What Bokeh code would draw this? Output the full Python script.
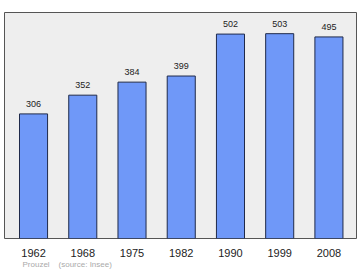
from bokeh.plotting import figure
from bokeh.models import ColumnDataSource, FixedTicker, Range1d, Title
from bokeh.core.properties import value
from bokeh.embed import file_html
from bokeh.resources import INLINE

years = ["1962", "1968", "1975", "1982", "1990", "1999", "2008"]
population = [306, 352, 384, 399, 502, 503, 495]
source_note = "Prouzel\u00a0\u00a0\u00a0\u00a0(source: Insee)"

xs = list(range(len(years)))
src = ColumnDataSource(dict(x=xs, top=population, label=[str(v) for v in population]))

p = figure(width=360, height=270, output_backend="svg", toolbar_location=None,
           x_range=Range1d(-0.59, 6.56), y_range=Range1d(0, 555),
           min_border_left=4, min_border_right=4, min_border_top=12, min_border_bottom=0)
p.background_fill_color = "#eeeeee"
p.border_fill_color = "white"
p.outline_line_color = "#555555"
p.outline_line_width = 1
p.xgrid.visible = False
p.ygrid.visible = False
p.yaxis.visible = False

p.vbar(x="x", top="top", width=0.57, source=src, fill_color="#6f98f8",
       line_color="#1f2a4a", line_width=1)
p.text(x="x", y="top", text="label", source=src, y_offset=-7,
       text_align="center", text_baseline="bottom", text_font_size="9px",
       text_color="#222222", text_font=value("Liberation Sans"))

ax = p.xaxis[0]
ax.ticker = FixedTicker(ticks=xs)
ax.major_label_overrides = {i: y for i, y in enumerate(years)}
ax.axis_line_color = None
ax.major_tick_line_color = None
ax.minor_tick_line_color = None
ax.major_label_standoff = 4
ax.major_label_text_font_size = "11px"
ax.major_label_text_color = "#222222"
ax.major_label_text_font = "Liberation Sans"

t = Title(text=source_note, align="left", text_font_size="8px", text_color="#aaaaaa",
          text_font="Liberation Sans", text_font_style="normal", offset=18, standoff=0,
          vertical_align="top")
p.add_layout(t, "below")

open("out.html", "w").write(file_html(p, INLINE))
